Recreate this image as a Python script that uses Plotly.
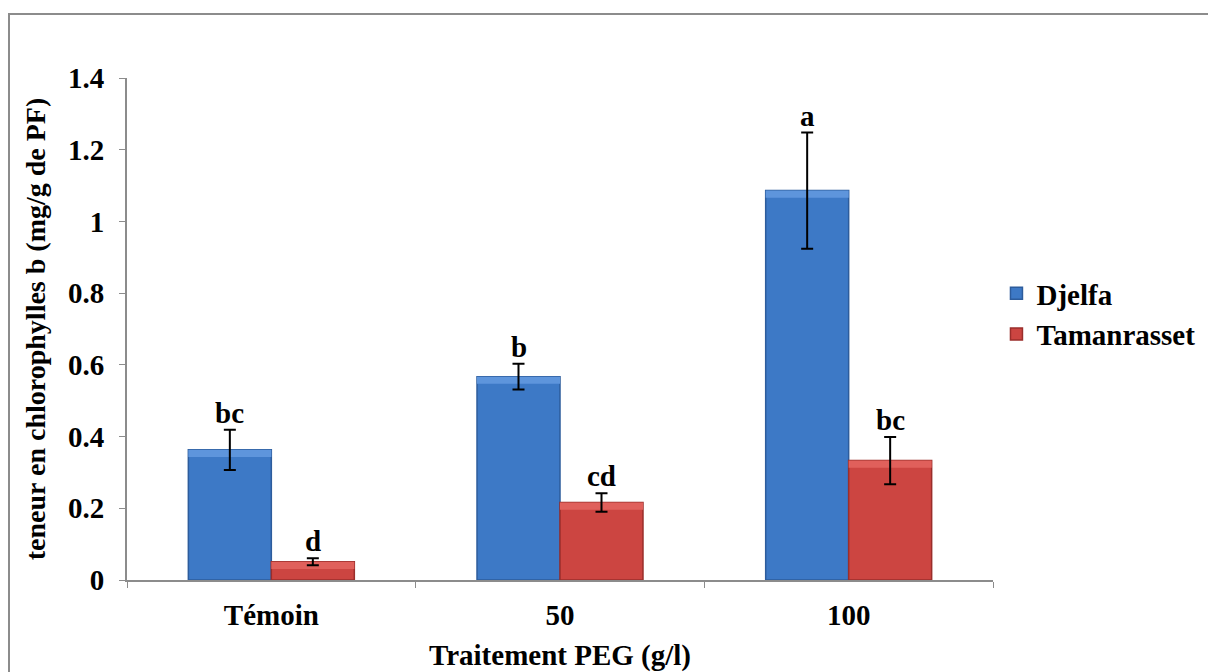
import plotly.graph_objects as go

# Chlorophyll b content by PEG treatment and provenance
categories = ["Témoin", "50", "100"]
djelfa = [0.363, 0.567, 1.086]
djelfa_err = [0.056, 0.036, 0.162]
tamanrasset = [0.051, 0.216, 0.333]
tamanrasset_err = [0.010, 0.026, 0.066]
djelfa_letters = ["bc", "b", "a"]
tamanrasset_letters = ["d", "cd", "bc"]
y_ticks = [0, 0.2, 0.4, 0.6, 0.8, 1.0, 1.2, 1.4]
y_tick_text = ["0", "0.2", "0.4", "0.6", "0.8", "1", "1.2", "1.4"]

FONT = "Liberation Serif, Times New Roman, serif"
BLUE = "#3d79c6"
BLUE_EDGE = "#2d5c9c"
BLUE_TOP = "#5e95dc"
RED = "#cc4541"
RED_EDGE = "#9a2e2b"
RED_TOP = "#e0605b"
BEVEL = 0.02  # depth of the lighter top band, in axis units

fig = go.Figure()

fig.add_trace(go.Bar(
    name="<b>Djelfa</b>", x=categories, y=djelfa, offsetgroup="d",
    marker=dict(color=BLUE, line=dict(color=BLUE_EDGE, width=1.5)),
    legendgroup="d",
))
fig.add_trace(go.Bar(
    name="<b>Tamanrasset</b>", x=categories, y=tamanrasset, offsetgroup="t",
    marker=dict(color=RED, line=dict(color=RED_EDGE, width=1.5)),
    legendgroup="t",
))

# lighter bevel band along the top of each bar, plus the error bars
fig.add_trace(go.Bar(
    x=categories, y=[BEVEL] * len(djelfa), base=[v - BEVEL for v in djelfa],
    offsetgroup="d", showlegend=False, hoverinfo="skip",
    marker=dict(color=BLUE_TOP, line=dict(color=BLUE_TOP, width=0)),
    error_y=dict(type="data", array=djelfa_err, color="black", thickness=2, width=6),
))
fig.add_trace(go.Bar(
    x=categories, y=[BEVEL] * len(tamanrasset), base=[v - BEVEL for v in tamanrasset],
    offsetgroup="t", showlegend=False, hoverinfo="skip",
    marker=dict(color=RED_TOP, line=dict(color=RED_TOP, width=0)),
    error_y=dict(type="data", array=tamanrasset_err, color="black", thickness=2, width=6),
))

# significance letters above each error bar (x given as category index)
annotations = []
half_offset = 41.5
for i, (v, e, lab) in enumerate(zip(djelfa, djelfa_err, djelfa_letters)):
    annotations.append(dict(x=i, y=v + e, xref="x", yref="y", text="<b>%s</b>" % lab,
                            showarrow=False, xshift=-half_offset, yanchor="bottom", yshift=-1,
                            font=dict(family=FONT, size=29, color="black")))
for i, (v, e, lab) in enumerate(zip(tamanrasset, tamanrasset_err, tamanrasset_letters)):
    annotations.append(dict(x=i, y=v + e, xref="x", yref="y", text="<b>%s</b>" % lab,
                            showarrow=False, xshift=half_offset, yanchor="bottom", yshift=-1,
                            font=dict(family=FONT, size=29, color="black")))

# chart-area frame (left and top edges visible)
W, H = 1208, 672
ml, mr, mt, mb = 127, 215, 78, 92
pw, ph = W - ml - mr, H - mt - mb
frame = dict(type="rect", xref="paper", yref="paper",
             x0=(9 - ml) / pw, x1=(W + 20 - ml) / pw,
             y0=(H - mb - (H + 20)) / ph, y1=(H - mb - 14) / ph,
             line=dict(color="#8c8c8c", width=2), fillcolor="rgba(0,0,0,0)", layer="below")

fig.update_layout(
    width=W, height=H,
    margin=dict(l=ml, r=mr, t=mt, b=mb, autoexpand=False),
    paper_bgcolor="white", plot_bgcolor="white",
    barmode="group", bargap=0.425, bargroupgap=0,
    font=dict(family=FONT, size=28, color="black"),
    showlegend=True,
    legend=dict(x=1.004, xanchor="left", y=0.53, yanchor="middle",
                font=dict(family=FONT, size=29, color="black"),
                tracegroupgap=0, bgcolor="rgba(0,0,0,0)"),
    annotations=annotations,
    shapes=[frame],
    xaxis=dict(
        type="category", showline=True, linecolor="#8c8c8c", linewidth=2,
        ticks="outside", tickson="boundaries", ticklen=6, tickcolor="#8c8c8c", tickwidth=1,
        tickangle=0, automargin=False, ticklabelstandoff=8,
        tickfont=dict(family=FONT, size=29, color="black"),
        tickvals=categories, ticktext=["<b>%s</b>" % c for c in categories],
        title=dict(text="<b>Traitement PEG (g/l)</b>", font=dict(family=FONT, size=29), standoff=16),
        showgrid=False, zeroline=False,
    ),
    yaxis=dict(
        range=[0, 1.4], showline=True, linecolor="#8c8c8c", linewidth=2,
        ticks="outside", ticklen=6, tickcolor="#8c8c8c", tickwidth=1, automargin=False,
        ticklabelstandoff=9,
        tickvals=y_ticks, ticktext=["<b>%s</b>" % t for t in y_tick_text],
        tickfont=dict(family=FONT, size=29, color="black"),
        title=dict(text="<b>teneur en chlorophylles b (mg/g de PF)</b>",
                   font=dict(family=FONT, size=28), standoff=14),
        showgrid=False, zeroline=False,
    ),
)

fig.write_html("out.html")
